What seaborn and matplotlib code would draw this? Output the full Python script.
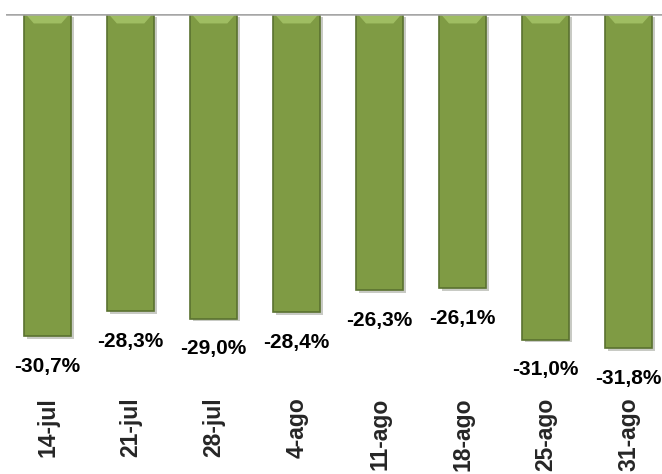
import matplotlib
matplotlib.use("Agg")
import matplotlib.pyplot as plt
import matplotlib.patheffects as pe
from matplotlib.patches import Polygon
import seaborn as sns

fechas = ['14-jul', '21-jul', '28-jul', '4-ago', '11-ago', '18-ago', '25-ago', '31-ago']
valores = [-30.7, -28.3, -29.0, -28.4, -26.3, -26.1, -31.0, -31.8]
etiquetas = [f"{v:.1f}%".replace('.', ',') for v in valores]

sns.set_style("white")
plt.rcParams['font.family'] = ['Liberation Sans', 'DejaVu Sans']

fig = plt.figure(figsize=(6.62, 4.74), dpi=100)
ax = fig.add_axes([6 / 662, 1 - 392 / 474, 1 - 6 / 662, (392 - 14) / 474])

sns.barplot(x=fechas, y=valores, color='#7f9b44', saturation=1, width=0.57,
            edgecolor='#5a7230', linewidth=1.2, ax=ax)

# bisel: franja clara arriba
for p in ax.patches:
    p.set_path_effects([pe.SimplePatchShadow(offset=(2, -2), alpha=0.25), pe.Normal()])
    x0, w = p.get_x(), p.get_width()
    top = p.get_y()  # 0
    d = 0.9
    poly = Polygon([(x0 + 0.02, top), (x0 + w - 0.02, top), (x0 + w - 0.12, top - d),
                    (x0 + 0.12, top - d)], closed=True, facecolor='#a8c66a',
                   edgecolor='none', alpha=0.8, zorder=3)
    ax.add_patch(poly)

ax.bar_label(ax.containers[0], labels=etiquetas, padding=15,
             fontsize=15, fontweight='bold', color='black')

ax.axhline(0, color='#a6a6a6', lw=1.8, zorder=5)
ax.set_xlim(-0.5, 7.4)
ax.set_ylim(-36.0, 0)
ax.set_yticks([])
ax.set_xlabel('')
ax.set_ylabel('')
for s in ax.spines.values():
    s.set_visible(False)
ax.tick_params(axis='x', length=0, pad=4)
plt.setp(ax.get_xticklabels(), rotation=90, ha='center', va='top',
         fontsize=16.5, fontweight='bold')

fig.savefig('out.png', dpi=100)
